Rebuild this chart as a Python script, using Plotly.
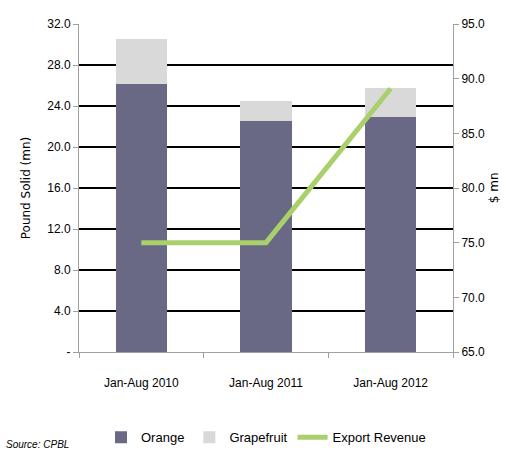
import plotly.graph_objects as go

categories = ["Jan-Aug 2010", "Jan-Aug 2011", "Jan-Aug 2012"]
orange = [26.1, 22.5, 22.9]
grapefruit = [4.4, 2.0, 2.9]
export_revenue = [75.0, 75.0, 89.1]

left_ticks = [0, 4, 8, 12, 16, 20, 24, 28, 32]
left_ticktext = ["-", "4.0", "8.0", "12.0", "16.0", "20.0", "24.0", "28.0", "32.0"]
right_ticks = [65, 70, 75, 80, 85, 90, 95]

FONT = "Liberation Sans Narrow, Arial Narrow, Liberation Sans, sans-serif"

fig = go.Figure()
fig.add_trace(go.Bar(x=categories, y=orange, name="Orange", marker_color="#696986",
                     marker_line_width=0, width=0.41))
fig.add_trace(go.Bar(x=categories, y=grapefruit, name="Grapefruit", marker_color="#D9D9D9",
                     marker_line_width=0, width=0.41))
fig.add_trace(go.Scatter(x=categories, y=export_revenue, name="Export Revenue", mode="lines",
                         line=dict(color="#A9D06B", width=5), yaxis="y2"))

fig.update_layout(
    width=509, height=453,
    barmode="stack",
    paper_bgcolor="white", plot_bgcolor="white",
    margin=dict(l=79, r=56, t=24, b=101, autoexpand=False),
    font=dict(family=FONT, size=12, color="black"),
    showlegend=True,
    legend=dict(orientation="h", x=0.5, xanchor="center", y=-0.26, yanchor="middle",
                font=dict(family=FONT, size=13), traceorder="normal",
                itemwidth=30, tracegroupgap=0),
    xaxis=dict(showline=True, linecolor="#A0A0A0", linewidth=1, ticks="outside",
               tickson="boundaries", ticklen=5, tickcolor="#A0A0A0",
               ticklabelstandoff=20, showgrid=False, tickfont=dict(size=12), automargin=False),
    yaxis=dict(range=[0, 32], tickvals=left_ticks, ticktext=left_ticktext,
               showgrid=True, gridcolor="black", gridwidth=1.5, zeroline=False,
               showline=True, linecolor="#A0A0A0", ticks="outside", ticklen=5,
               tickcolor="#A0A0A0", tickfont=dict(size=12), automargin=False,
               title=dict(text="Pound Solid (mn)", font=dict(family="DejaVu Sans, sans-serif", size=12),
                          standoff=14)),
    yaxis2=dict(range=[65, 95], tickvals=right_ticks, tickformat=".1f", overlaying="y",
                side="right", showgrid=False, zeroline=False, showline=True,
                linecolor="#A0A0A0", ticks="outside", ticklen=5, tickcolor="#A0A0A0",
                tickfont=dict(size=12), automargin=False),
)

fig.add_annotation(text="$ mn", xref="paper", yref="paper", x=1.11, y=0.5,
                   xanchor="center", yanchor="middle", textangle=-90, showarrow=False,
                   font=dict(family="DejaVu Sans, sans-serif", size=12, color="black"))

fig.add_annotation(text="<i>Source: CPBL</i>", xref="paper", yref="paper", x=-0.2, y=-0.305,
                   xanchor="left", yanchor="bottom", showarrow=False,
                   font=dict(family=FONT, size=10, color="black"))

fig.write_html("out.html", config={"displayModeBar": False},
               post_script="document.body.style.margin='0';")
